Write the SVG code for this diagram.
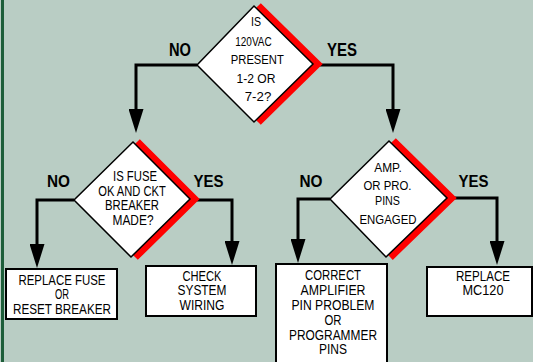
<svg xmlns="http://www.w3.org/2000/svg" width="533" height="362" viewBox="0 0 533 362">
<defs>
<style>
.dia{fill:#fff;stroke:#000;stroke-width:1.5;stroke-linejoin:miter}
.sh{fill:none;stroke:#f00;stroke-width:8;stroke-linejoin:miter;stroke-linecap:butt}
.box{fill:#fff;stroke:#000;stroke-width:2}
.con{fill:none;stroke:#000;stroke-width:3}
.t{font-family:"Liberation Sans Narrow","Liberation Sans",Arial,sans-serif;fill:#000;text-anchor:middle}
.s13{font-size:13px}
.s14{font-size:14px}
.lbl{font-family:"Liberation Sans Narrow","Liberation Sans",Arial,sans-serif;font-weight:bold;fill:#000;text-anchor:middle}
</style>
<marker id="ah" viewBox="0 0 24 15" refX="0" refY="7.5" markerWidth="24" markerHeight="15" markerUnits="userSpaceOnUse" orient="auto">
<path d="M0,0 L24,7.5 L0,15 z" fill="#000"/>
</marker>
</defs>
<rect x="0" y="0" width="533" height="362" fill="#b9cdc4"/>
<rect x="1" y="0" width="3" height="362" fill="#1d5e3a"/>

<g id="connectors">
<path class="con" d="M197,65 H136 V109" marker-end="url(#ah)"/>
<path class="con" d="M313,65 H393 V109" marker-end="url(#ah)"/>
<path class="con" d="M74,200 H37 V244" marker-end="url(#ah)"/>
<path class="con" d="M190,200 H232 V241" marker-end="url(#ah)"/>
<path class="con" d="M330,199 H298 V239" marker-end="url(#ah)"/>
<path class="con" d="M447,198 H497 V241" marker-end="url(#ah)"/>
</g>

<g id="labels">
<text class="lbl" x="180" y="56" font-size="18.5" textLength="22" lengthAdjust="spacingAndGlyphs">NO</text>
<text class="lbl" x="342" y="56" font-size="18.5" textLength="30" lengthAdjust="spacingAndGlyphs">YES</text>
<text class="lbl" x="58.5" y="187" font-size="17" textLength="23" lengthAdjust="spacingAndGlyphs">NO</text>
<text class="lbl" x="208.5" y="187" font-size="17" textLength="30" lengthAdjust="spacingAndGlyphs">YES</text>
<text class="lbl" x="311" y="187" font-size="17" textLength="23" lengthAdjust="spacingAndGlyphs">NO</text>
<text class="lbl" x="473.5" y="187" font-size="17" textLength="30" lengthAdjust="spacingAndGlyphs">YES</text>
</g>

<g id="d1">
<polyline class="sh" points="258,6 317,64 258,122"/>
<polygon class="dia" points="254,6 313,64 254,122 197,65"/>
<text class="t s13" x="256" y="26" textLength="10" lengthAdjust="spacingAndGlyphs">IS</text>
<text class="t s13" x="253.5" y="46" textLength="36.5" lengthAdjust="spacingAndGlyphs">120VAC</text>
<text class="t s13" x="257.3" y="64" textLength="53" lengthAdjust="spacingAndGlyphs">PRESENT</text>
<text class="t s13" x="256" y="83" textLength="39" lengthAdjust="spacingAndGlyphs">1-2 OR</text>
<text class="t s13" x="258" y="100.7" textLength="26.5" lengthAdjust="spacingAndGlyphs">7-2?</text>
</g>

<g id="d2">
<polyline class="sh" points="137,142 194,199 135,257"/>
<polygon class="dia" points="133,142 190,199 131,257 74,200"/>
<text class="t s14" x="135" y="180.7" textLength="44" lengthAdjust="spacingAndGlyphs">IS FUSE</text>
<text class="t s14" x="132" y="195.7" textLength="67.5" lengthAdjust="spacingAndGlyphs">OK AND CKT</text>
<text class="t s14" x="132" y="210" textLength="54" lengthAdjust="spacingAndGlyphs">BREAKER</text>
<text class="t s14" x="133" y="225" textLength="41" lengthAdjust="spacingAndGlyphs">MADE?</text>
</g>

<g id="d3">
<polyline class="sh" points="393,141 451,198 390,257"/>
<polygon class="dia" points="389,141 447,198 386,257 330,199"/>
<text class="t s13" x="388" y="171.7" textLength="27.5" lengthAdjust="spacingAndGlyphs">AMP.</text>
<text class="t s13" x="387.5" y="190" textLength="48" lengthAdjust="spacingAndGlyphs">OR PRO.</text>
<text class="t s13" x="387.5" y="205" textLength="25" lengthAdjust="spacingAndGlyphs">PINS</text>
<text class="t s13" x="388" y="224.3" textLength="57" lengthAdjust="spacingAndGlyphs">ENGAGED</text>
</g>

<g id="b1">
<rect class="box" x="6" y="269" width="111" height="50"/>
<text class="t s14" x="62" y="285" textLength="87" lengthAdjust="spacingAndGlyphs">REPLACE FUSE</text>
<text class="t s14" x="62" y="298.5" textLength="14" lengthAdjust="spacingAndGlyphs">OR</text>
<text class="t s14" x="62" y="313.5" textLength="98" lengthAdjust="spacingAndGlyphs">RESET BREAKER</text>
</g>

<g id="b2">
<rect class="box" x="146" y="266" width="110" height="50"/>
<text class="t s14" x="202" y="281" textLength="39" lengthAdjust="spacingAndGlyphs">CHECK</text>
<text class="t s14" x="202" y="295" textLength="49" lengthAdjust="spacingAndGlyphs">SYSTEM</text>
<text class="t s14" x="202" y="309.5" textLength="45" lengthAdjust="spacingAndGlyphs">WIRING</text>
</g>

<g id="b3">
<rect class="box" x="276" y="264" width="111" height="110"/>
<text class="t s14" x="333" y="280" textLength="56" lengthAdjust="spacingAndGlyphs">CORRECT</text>
<text class="t s14" x="333" y="295" textLength="65" lengthAdjust="spacingAndGlyphs">AMPLIFIER</text>
<text class="t s14" x="333" y="309.5" textLength="83" lengthAdjust="spacingAndGlyphs">PIN PROBLEM</text>
<text class="t s14" x="333" y="325" textLength="17" lengthAdjust="spacingAndGlyphs">OR</text>
<text class="t s14" x="333" y="340" textLength="88" lengthAdjust="spacingAndGlyphs">PROGRAMMER</text>
<text class="t s14" x="333" y="354" textLength="28" lengthAdjust="spacingAndGlyphs">PINS</text>
</g>

<g id="b4">
<rect class="box" x="427" y="267" width="105" height="49"/>
<text class="t s14" x="483" y="281" textLength="54" lengthAdjust="spacingAndGlyphs">REPLACE</text>
<text class="t s14" x="483" y="295" textLength="41" lengthAdjust="spacingAndGlyphs">MC120</text>
</g>
</svg>
